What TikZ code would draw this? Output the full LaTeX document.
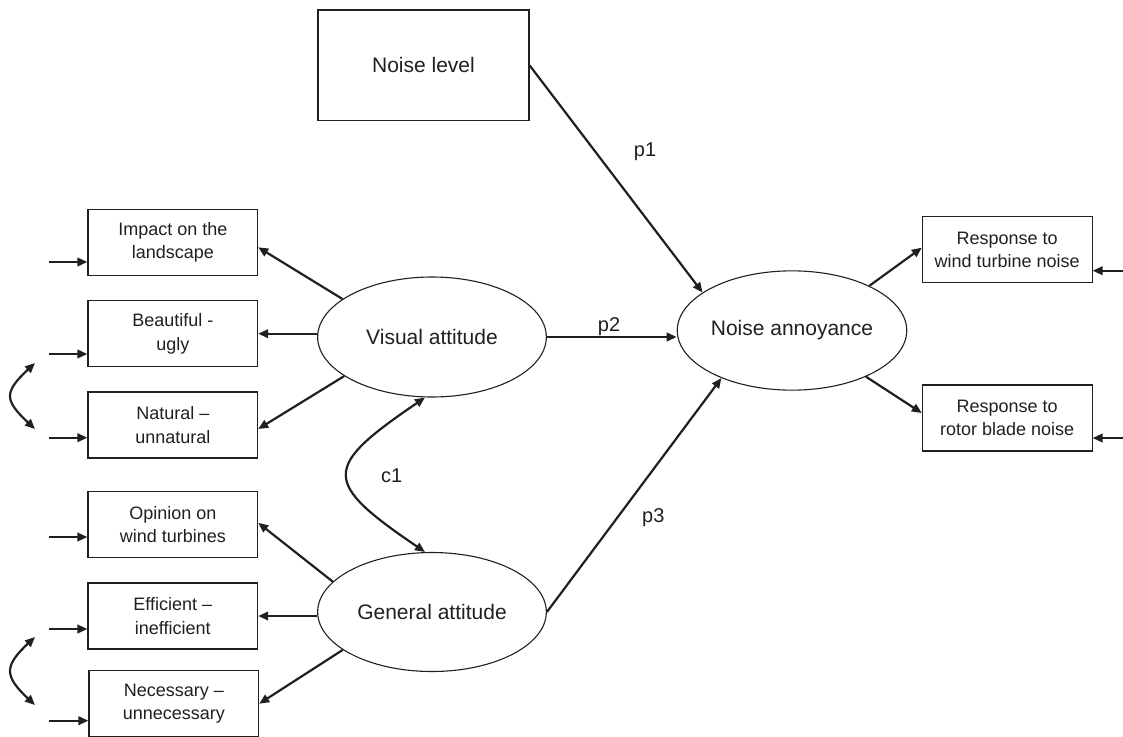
\documentclass[tikz,border=0pt]{standalone}
\usepackage{fontspec}
\setmainfont{Liberation Sans}
\usetikzlibrary{arrows.meta,shapes.geometric}
\definecolor{ink}{HTML}{231F20}
\begin{document}
\begin{tikzpicture}[x=1pt,y=-1pt,
  box/.style={draw=ink, line width=1.1pt, minimum width=169.7pt, minimum height=66pt, inner sep=0pt, align=center, font=\fontsize{18}{23.5}\selectfont, text=ink},
  lat/.style={ellipse, draw=ink, line width=1.1pt, minimum width=228.7pt, minimum height=120pt, inner sep=0pt, font=\fontsize{21}{25}\selectfont, text=ink},
  arr/.style={draw=ink, line width=2.2pt, -{Triangle[length=10pt,width=8.5pt]}},
  dbl/.style={draw=ink, line width=2.2pt, {Triangle[length=10pt,width=8.5pt]}-{Triangle[length=10pt,width=8.5pt]}},
  lab/.style={font=\fontsize{20}{24}\selectfont, text=ink}]
\useasboundingbox (0,0) rectangle (1123,736);
\clip (0,0) rectangle (1123,736);
\fill[white] (0,0) rectangle (1123,736);

% nodes
\node[box, minimum width=211pt, minimum height=110.7pt, font=\fontsize{21}{25}\selectfont] (nl) at (423.5,65.3) {Noise level};
\node[lat] (va) at (432,337) {Visual attitude};
\node[lat, minimum height=119pt] (ga) at (432,612) {General attitude};
\node[lat, minimum height=119.3pt] (na) at (792,330.5) {Noise annoyance};
\node[box] (b1) at (172.8,242.3) {Impact on the\\landscape};
\node[box] (b2) at (172.8,333.7) {Beautiful -\\ugly};
\node[box] (b3) at (172.8,425) {Natural –\\unnatural};
\node[box] (b4) at (172.8,524.8) {Opinion on\\wind turbines};
\node[box] (b5) at (172.8,616) {Efficient –\\inefficient};
\node[box] (b6) at (173.8,703.7) {Necessary –\\unnecessary};
\node[box] (r1) at (1007.2,249.7) {Response to\\wind turbine noise};
\node[box] (r2) at (1007.2,418) {Response to\\rotor blade noise};

% structural paths
\draw[arr] (nl.east) -- (na.157.4);
\draw[arr] (va.east) -- (na.west |- va.east);
\draw[arr] (ga.east) -- (na.214.8);

% loadings
\draw[arr] (va.157.9) -- ([yshift=-5pt]b1.east);
\draw[arr] (va.west |- b2.east) -- (b2.east);
\draw[arr] (va.204.1) -- ([yshift=-4pt]b3.east);
\draw[arr] (ga.163) -- ([yshift=2pt]b4.east);
\draw[arr] (ga.west |- b5.east) -- (b5.east);
\draw[arr] (ga.203.9) -- (b6.east);
\draw[arr] (na.30.5) -- ([yshift=2pt]r1.west);
\draw[arr] (na.328.7) -- ([yshift=5pt]r2.west);

% error inputs
\coordinate (i1) at (49,262);
\coordinate (i2) at (49,354);
\coordinate (i3) at (49,437.7);
\coordinate (i4) at (49,537);
\coordinate (i5) at (49,629);
\coordinate (i6) at (49,720.7);
\draw[arr] (i1) -- (b1.west |- i1);
\draw[arr] (i2) -- (b2.west |- i2);
\draw[arr] (i3) -- (b3.west |- i3);
\draw[arr] (i4) -- (b4.west |- i4);
\draw[arr] (i5) -- (b5.west |- i5);
\draw[arr] (i6) -- (b6.west |- i6);
\coordinate (j1) at (1123,270.7);
\coordinate (j2) at (1123,438);
\draw[arr] (j1) -- (r1.east |- j1);
\draw[arr] (j2) -- (r2.east |- j2);

% error covariances
\coordinate (ca1) at (35,363);
\coordinate (cb1) at (35,429);
\coordinate (ca2) at (35,637);
\coordinate (cb2) at (35,705);
\draw[dbl] (ca1) .. controls +(-31,29) and +(-31,-29) .. (cb1);
\draw[dbl] (ca2) .. controls +(-31,29) and +(-31,-29) .. (cb2);

% latent covariance
\draw[dbl] ([xshift=-7pt]va.south) .. controls +(-103,70) and +(-103,-70) .. ([xshift=-7pt]ga.north);

% labels
\node[lab] (p1) at (645,152) {p1};
\node[lab] (p2) at (609,326.7) {p2};
\node[lab] (p3) at (653.3,517.3) {p3};
\node[lab] (c1) at (391.7,476) {c1};
\end{tikzpicture}
\end{document}
